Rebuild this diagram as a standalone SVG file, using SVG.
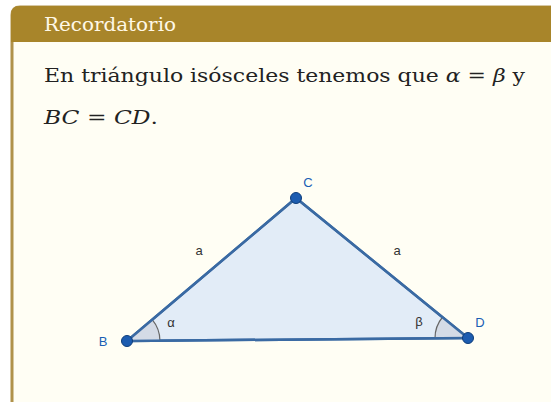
<svg xmlns="http://www.w3.org/2000/svg" width="551" height="402" viewBox="0 0 551 402">
<style>
.serif{font-family:"DejaVu Serif","Liberation Serif",serif}
.lbl{font-family:"Liberation Sans",Arial,sans-serif;font-size:13px;fill:#1a5fb4}
.side{font-family:"Liberation Sans",Arial,sans-serif;font-size:13px;fill:#333}
.pt{fill:#1c5cb0;stroke:#0d3d7a;stroke-width:1}
.arc{fill:#d4dbe6;stroke:#666;stroke-width:1.2}
</style>
<rect width="551" height="402" fill="#ffffff"/>
<g id="box">
<path d="M12,414 L12,15 Q12,7 20,7 L560,7 L560,414 Z" fill="#fffef4" stroke="#b0924a" stroke-width="3"/>
<path d="M11,42 L11,15 Q11,6 20,6 L560,6 L560,42 Z" fill="#a8852a"/>
<text x="44" y="31" class="serif" font-size="18" fill="#fff8e6" textLength="132" lengthAdjust="spacingAndGlyphs">Recordatorio</text>
</g>
<g id="text">
<text x="44" y="82" class="serif" font-size="18" fill="#222" textLength="481" lengthAdjust="spacingAndGlyphs">En triángulo isósceles tenemos que <tspan font-style="italic">α</tspan> = <tspan font-style="italic">β</tspan> y</text>
<text x="44" y="124" class="serif" font-size="18" fill="#222" textLength="114" lengthAdjust="spacingAndGlyphs"><tspan font-style="italic">BC</tspan> = <tspan font-style="italic">CD</tspan>.</text>
</g>
<g id="triangle">
<polygon points="127,341 296,198 468,338" fill="#e2ecf7" stroke="#3a6aa3" stroke-width="2.5" stroke-linejoin="round"/>
</g>
<g id="angles">
<path d="M127,341 L159.9,340.5 A33,33 0 0 0 152.2,319.7 Z" class="arc"/>
<path d="M468,338 L435,338.2 A33,33 0 0 1 442.6,317 Z" class="arc"/>
<path d="M127,341 L468,338" fill="none" stroke="#3a6aa3" stroke-width="2.5"/>
<path d="M127,341 L296,198 L468,338" fill="none" stroke="#3a6aa3" stroke-width="2.5" stroke-linejoin="round"/>
</g>
<g id="labels">
<text x="171" y="327" class="side" text-anchor="middle">α</text>
<text x="419" y="326" class="side" text-anchor="middle">β</text>
<text x="199" y="255" class="side" text-anchor="middle">a</text>
<text x="397" y="255" class="side" text-anchor="middle">a</text>
</g>
<g id="B"><circle cx="127" cy="341" r="5.5" class="pt"/><text x="103" y="346" class="lbl" text-anchor="middle">B</text></g>
<g id="C"><circle cx="296" cy="198" r="5.5" class="pt"/><text x="308" y="187" class="lbl" text-anchor="middle">C</text></g>
<g id="D"><circle cx="468" cy="338" r="5.5" class="pt"/><text x="480" y="327" class="lbl" text-anchor="middle">D</text></g>
</svg>
